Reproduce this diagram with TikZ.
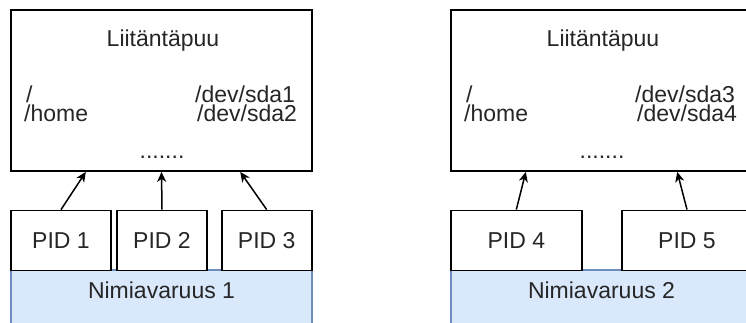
\documentclass[tikz,border=0pt]{standalone}
\usepackage{fontspec}
\setmainfont{Liberation Sans}
\usetikzlibrary{arrows.meta,calc}
\definecolor{nsfill}{HTML}{DAE8FC}
\definecolor{nsline}{HTML}{6C8EBF}

\begin{document}
\begin{tikzpicture}[x=1pt,y=-1pt,
    txt/.style = {font=\fontsize{23}{19}\selectfont, text=black!85, inner sep=0pt},
    box/.style = {draw, line width=1.8pt, fill=white, txt},
    ns/.style = {draw=nsline, fill=nsfill, line width=1.5pt, minimum width=301pt, minimum height=60pt},
    arr/.style = {-{Stealth[length=10pt,width=9pt,inset=3pt]}, line width=1.5pt}]
    \clip (0,0) rectangle (746,323);
    % left side
    \node at (161.5,300) [ns, label={[txt,anchor=center,yshift=-21.5pt]north:Nimiavaruus 1}] (n1) {};
    \node at (61,240.5) [box, minimum width=100pt, minimum height=60pt] (p1) {PID 1};
    \node at (162,240.5) [box, minimum width=90pt, minimum height=60pt] (p2) {PID 2};
    \node at (266.7,240.5) [box, minimum width=90pt, minimum height=60pt] (p3) {PID 3};
    \node at (161.5,90.5) [box, minimum width=301pt, minimum height=161pt] (m1) {};
    \node at (163,47) [txt, anchor=base] (t1) {Liitäntäpuu};
    \node at (24,122) [txt, anchor=base west, align=left] (a1) {\hspace*{2pt}/\\/home};
    \node at (195,122) [txt, anchor=base west, align=left] (c1) {/dev/sda1\\\hspace*{2pt}/dev/sda2};
    \node at (162,159) [txt, anchor=base] (e1) {.......};
    \draw[arr] (p1.north) -- ($(m1.south west)!0.25!(m1.south east)$);
    \draw[arr] (p2.north) -- ($(m1.south west)!0.5!(m1.south east)$);
    \draw[arr] (p3.north) -- ($(m1.south west)!0.76!(m1.south east)$);
    % right side
    \node at (601.5,300) [ns, label={[txt,anchor=center,yshift=-21.5pt]north:Nimiavaruus 2}] (n2) {};
    \node at (516.3,240.5) [box, minimum width=130.7pt, minimum height=60pt] (p4) {PID 4};
    \node at (687,240.5) [box, minimum width=130.7pt, minimum height=60pt] (p5) {PID 5};
    \node at (601.5,90.5) [box, minimum width=301pt, minimum height=161pt] (m2) {};
    \node at (603,47) [txt, anchor=base] (t2) {Liitäntäpuu};
    \node at (464,122) [txt, anchor=base west, align=left] (a2) {\hspace*{2pt}/\\/home};
    \node at (635,122) [txt, anchor=base west, align=left] (c2) {/dev/sda3\\\hspace*{2pt}/dev/sda4};
    \node at (602,159) [txt, anchor=base] (e2) {.......};
    \draw[arr] (p4.north) -- ($(m2.south west)!0.25!(m2.south east)$);
    \draw[arr] (p5.north) -- ($(m2.south west)!0.75!(m2.south east)$);
\end{tikzpicture}
\end{document}
